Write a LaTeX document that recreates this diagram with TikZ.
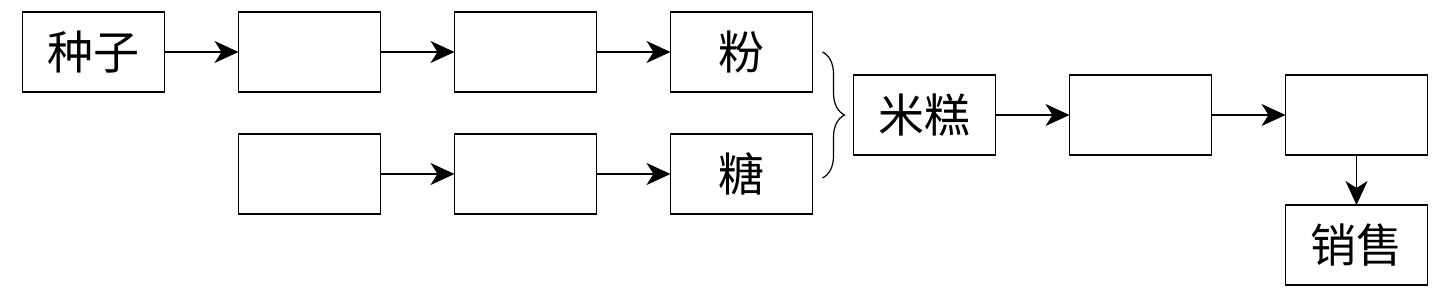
\documentclass[tikz,border=0pt]{standalone}
\usepackage{fontspec}
\newfontfamily\cjk{Noto Sans CJK SC}
\usetikzlibrary{arrows.meta, positioning, calc, decorations.pathreplacing}

\begin{document}
\begin{tikzpicture}[node distance=37pt,
    font=\cjk\fontsize{23}{23}\selectfont,
    stage/.style={draw, line width=0.9pt, rectangle, minimum width=71pt, minimum height=40pt, inner sep=0pt, outer sep=0pt},
    flow/.style={-{Stealth[length=12pt,width=11pt,inset=3.5pt]}, line width=0.9pt}]
    \useasboundingbox (0,0) rectangle (725pt,-146pt);

    % top row
    \node[stage] (seed) at (46.75pt,-26pt) {种子};
    \node[stage, right=of seed] (step1) {};
    \node[stage, right=of step1] (step2) {};
    \node[stage, right=of step2] (fen) {粉};

    % bottom row
    \node[stage, below=21pt of step1] (raw) {};
    \node[stage, below=21pt of step2] (step3) {};
    \node[stage, below=21pt of fen] (tang) {糖};

    % brace and product line
    \coordinate (bt) at ($(fen.east)+(5pt,0)$);
    \coordinate (bb) at ($(tang.east)+(5pt,-2pt)$);
    \draw[line width=0.6pt, decorate, decoration={brace, amplitude=11pt}] (bt) -- (bb);
    \node[stage, anchor=west] (migao) at ($(fen.east)!0.5!(tang.east)+(20.5pt,-1pt)$) {米糕};
    \node[stage, right=of migao] (step4) {};
    \node[stage, right=of step4] (step5) {};
    \node[stage, below=25pt of step5] (sale) {销售};

    \draw[flow] (seed) -- (step1);
    \draw[flow] (step1) -- (step2);
    \draw[flow] (step2) -- (fen);
    \draw[flow] (raw) -- (step3);
    \draw[flow] (step3) -- (tang);
    \draw[flow] (migao) -- (step4);
    \draw[flow] (step4) -- (step5);
    \draw[flow] (step5) -- (sale);
\end{tikzpicture}
\end{document}
